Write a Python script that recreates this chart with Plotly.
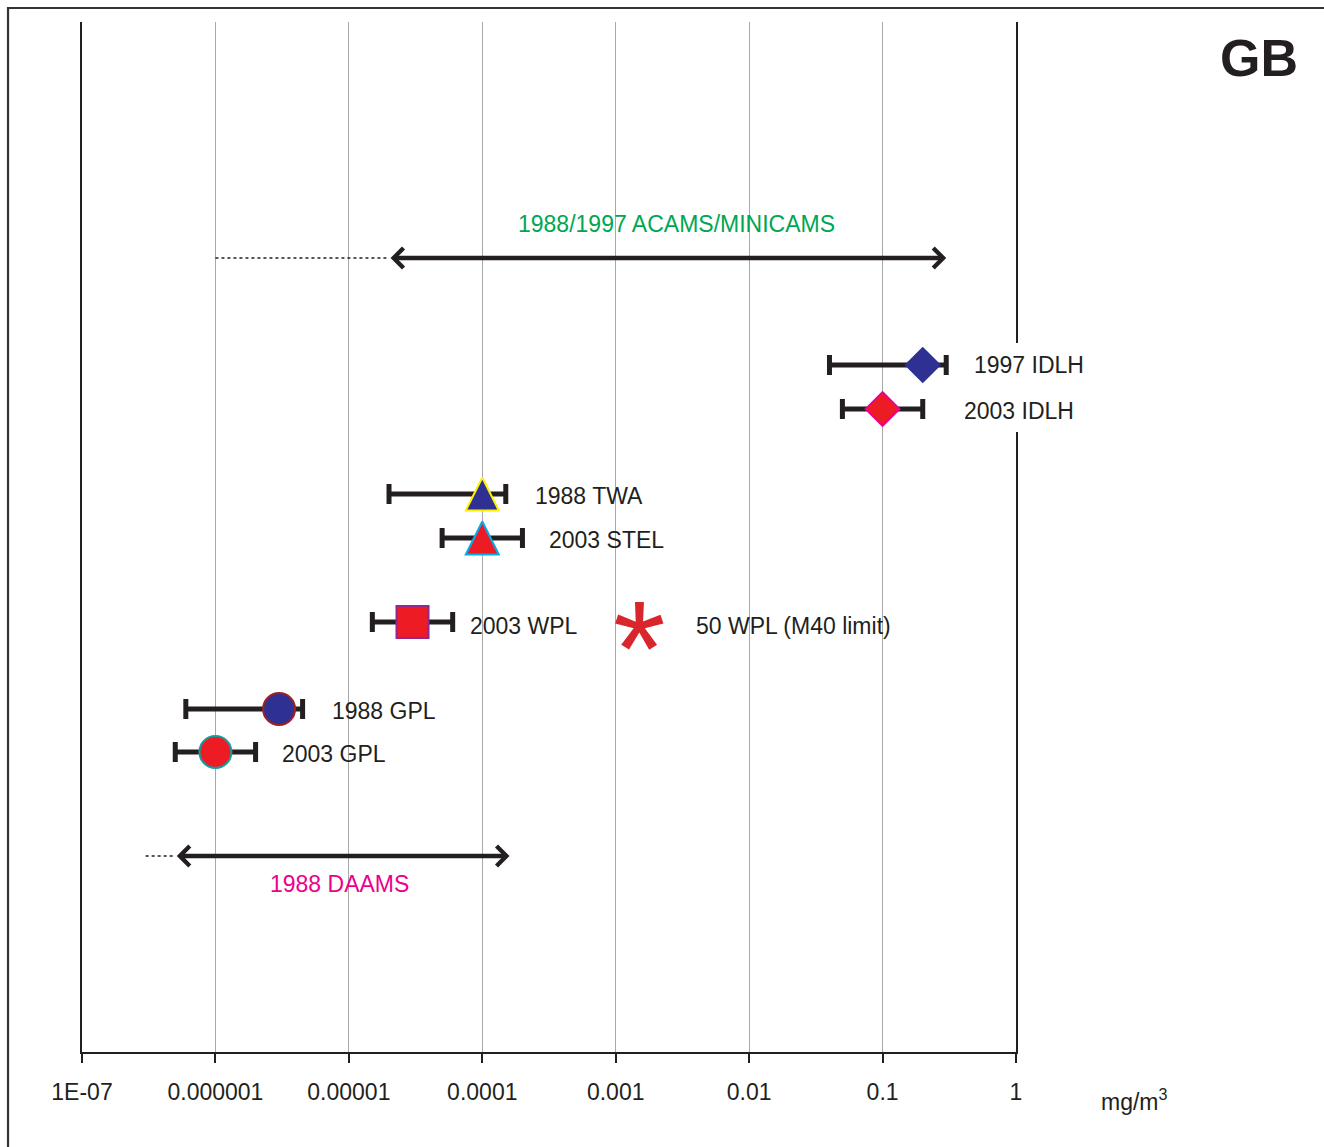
import numpy as np
import plotly.graph_objects as go

# ---------------- data ----------------
series_labels = ["1997 IDLH", "2003 IDLH", "1988 TWA", "2003 STEL", "2003 WPL", "1988 GPL", "2003 GPL"]
series_values = [0.2, 0.1, 1e-4, 1e-4, 3e-5, 3e-6, 1e-6]
series_low = [0.04, 0.05, 2e-5, 5e-5, 1.5e-5, 6e-7, 5e-7]
series_high = [0.3, 0.2, 1.5e-4, 2e-4, 6e-5, 4.5e-6, 2e-6]
series_rows = [343, 387, 472, 516, 600, 687, 730]

m40_label = "50 WPL (M40 limit)"
m40_value = 0.0015
m40_row = 605

acams_label = "1988/1997 ACAMS/MINICAMS"
acams_dashed_start = 1e-6
acams_low = 2e-5
acams_high = 0.3
acams_row = 236

daams_label = "1988 DAAMS"
daams_dashed_start = 3e-7
daams_low = 5e-7
daams_high = 1.6e-4
daams_row = 834

tick_values = [1e-7, 1e-6, 1e-5, 1e-4, 1e-3, 1e-2, 1e-1, 1]
tick_labels = ["1E-07", "0.000001", "0.00001", "0.0001", "0.001", "0.01", "0.1", "1"]

# ---------------- styles ----------------
NAVY = "#2e3192"
RED = "#ed1c24"
INK = "#231f20"
symbols = ["diamond", "diamond", "arrow-up", "arrow-up", "square", "circle", "circle"]
fills = [NAVY, RED, NAVY, RED, RED, NAVY, RED]
borders = [NAVY, "#ec008c", "#fff200", "#00aeef", "#92278f", "#9e1f24", "#1a9ba1"]
sizes = [26, 26, 33, 33, 32, 32, 32]
label_gaps = [26, 39, 27, 25, 15, 27, 24]
label_yshifts = [0, -2, -2, -2, -4, -2, -2]
FONT = "Liberation Sans, Arial, sans-serif"

fig = go.Figure()

vals = np.array(series_values)
err_plus = np.array(series_high) - vals
err_minus = vals - np.array(series_low)

# error bars (markers hidden) first, then markers on top
fig.add_trace(go.Scatter(
    x=series_values, y=series_rows, mode="markers",
    marker=dict(size=1, color="rgba(0,0,0,0)"),
    error_x=dict(type="data", symmetric=False, array=err_plus, arrayminus=err_minus,
                 color=INK, thickness=5, width=10),
    showlegend=False, hoverinfo="skip",
))
# "arrow-up" symbols have their apex at the anchor point: lift them by half
# their height (1 y-unit == 1 px) so the triangle is centred on its row.
marker_rows = [r - s / 2 if sym == "arrow-up" else r
               for r, s, sym in zip(series_rows, sizes, symbols)]
fig.add_trace(go.Scatter(
    x=series_values, y=marker_rows, mode="markers",
    marker=dict(symbol=symbols, color=fills, size=sizes, opacity=1,
                line=dict(color=borders, width=2)),
    showlegend=False, hoverinfo="skip",
))

# dashed extensions
for start, low, row in [(acams_dashed_start, acams_low, acams_row),
                        (daams_dashed_start, daams_low, daams_row)]:
    fig.add_trace(go.Scatter(
        x=[start, low], y=[row, row], mode="lines",
        line=dict(color=INK, width=1.5, dash="3px,3px"),
        showlegend=False, hoverinfo="skip",
    ))

# double-headed arrows
for low, high, row in [(acams_low, acams_high, acams_row), (daams_low, daams_high, daams_row)]:
    fig.add_annotation(
        x=np.log10(high), y=row, ax=np.log10(low), ay=row,
        xref="x", yref="y", axref="x", ayref="y", text="",
        showarrow=True, arrowhead=4, startarrowhead=4, arrowside="end+start",
        arrowwidth=4.5, arrowsize=0.85, startarrowsize=0.85,
        arrowcolor=INK, standoff=0, startstandoff=0,
    )

fig.add_annotation(
    x=(np.log10(acams_low) + np.log10(acams_high)) / 2, y=acams_row, xref="x", yref="y",
    text=acams_label, showarrow=False, yshift=34, xshift=9,
    font=dict(family=FONT, size=23, color="#00a651"),
)
fig.add_annotation(
    x=(np.log10(daams_low) + np.log10(daams_high)) / 2, y=daams_row, xref="x", yref="y",
    text=daams_label, showarrow=False, yshift=-28, xshift=-3,
    font=dict(family=FONT, size=23, color="#ec008c"),
)

# series labels
for lab, hi, row, gap, ys in zip(series_labels, series_high, series_rows, label_gaps, label_yshifts):
    fig.add_annotation(
        x=np.log10(hi), y=row, xref="x", yref="y", text=lab, showarrow=False,
        xanchor="left", xshift=gap, yshift=ys,
        font=dict(family=FONT, size=23, color=INK),
    )

# M40 asterisk marker + label
fig.add_annotation(
    x=np.log10(m40_value), y=m40_row, xref="x", yref="y", text="*", showarrow=False,
    yshift=-21, font=dict(family=FONT, size=135, color="#d9262c"),
)
fig.add_annotation(
    x=np.log10(m40_value), y=m40_row, xref="x", yref="y", text=m40_label, showarrow=False,
    xanchor="left", xshift=55, yshift=1,
    font=dict(family=FONT, size=23, color=INK),
)

# GB tag and units
fig.add_annotation(x=1.2602, y=0.965, xref="paper", yref="paper", text="<b>GB</b>",
                   xanchor="center", yanchor="middle",
                   showarrow=False, font=dict(family=FONT, size=52, color=INK))
fig.add_annotation(x=1.1274, y=-0.0466, xref="paper", yref="paper", text="mg/m<sup>3</sup>",
                   xanchor="center", yanchor="middle",
                   showarrow=False, font=dict(family=FONT, size=23, color=INK))

# white gap in right frame line behind IDLH labels
fig.add_shape(type="rect", xref="paper", yref="y", x0=0.99, x1=1.01, y0=321, y1=410,
              fillcolor="white", line=dict(width=0), layer="above")

# outer frame (left and top edges visible)
fig.add_shape(type="path", xref="paper", yref="paper",
              path="M -0.0792,-0.2 L -0.0792,1.0136 L 1.4,1.0136",
              line=dict(color="#333333", width=2.2), layer="above")

fig.update_xaxes(
    type="log", range=[-7, 0], tickvals=tick_values, ticktext=tick_labels,
    showgrid=True, gridcolor="#a8a8a8", gridwidth=1,
    showline=True, linecolor=INK, linewidth=1.5,
    ticks="outside", ticklen=9, tickwidth=1.5, tickcolor=INK, ticklabelstandoff=10,
    tickfont=dict(family=FONT, size=23, color=INK), zeroline=False,
)
fig.update_yaxes(
    range=[1030, 0], showgrid=False, showticklabels=False, zeroline=False,
    showline=True, mirror=True, linecolor=INK, linewidth=1.5, ticks="",
)

fig.update_layout(
    width=1324, height=1147,
    margin=dict(l=82, r=308, t=22, b=95),
    paper_bgcolor="white", plot_bgcolor="white",
    showlegend=False, font=dict(family=FONT, color=INK),
)

fig.write_html("out.html")
